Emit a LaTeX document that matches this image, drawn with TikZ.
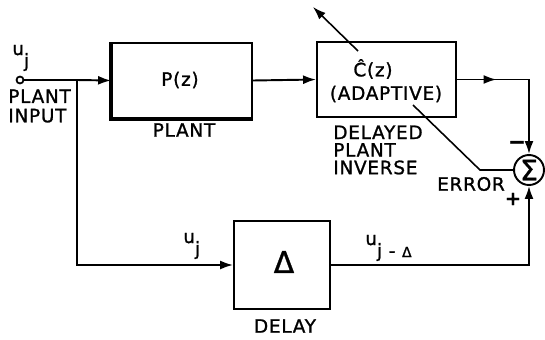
\documentclass[tikz,border=0pt]{standalone}
\usepackage{fontspec}
\setsansfont{DejaVu Sans}[LetterSpace=4, FakeBold=1.2]
\usetikzlibrary{arrows.meta,decorations.markings}
\tikzset{
  blk/.style={draw, line width=1.1pt, inner sep=0pt},
  sig/.style={line width=1.1pt},
  lbl/.style={inner sep=0pt, font=\sffamily\fontsize{10.5}{10}\selectfont},
  midarrow/.style={postaction={decorate},
    decoration={markings, mark=at position #1 with {\arrow{Latex[length=2.6mm,width=1.8mm]}}}},
}
\newcommand{\usub}[1]{u\raisebox{-1.2ex}{#1}}
\begin{document}
\begin{tikzpicture}[x=0.02cm, y=-0.02cm, >={Latex[length=2.6mm,width=1.8mm]}]
  \useasboundingbox (0,0) rectangle (545,339);

  % Bloques
  \node[blk, minimum width=2.8cm, minimum height=1.5cm] (plant) at (182,80.5) {};
  \draw[line width=2.4pt] (plant.north west) -- (plant.south west) -- (plant.south east);
  \node[blk, minimum width=2.78cm, minimum height=1.5cm] (cinv) at (386.5,79.5) {};
  \node[blk, minimum width=1.92cm, minimum height=1.76cm] (delay) at (282,265) {};
  \node[draw, circle, line width=1.1pt, minimum size=0.6cm, inner sep=0pt] (sum) at (529,170)
    {\sffamily\fontsize{16}{16}\selectfont Σ};
  \node[draw, circle, line width=1pt, minimum size=0.14cm, inner sep=0pt] (inp) at (20,80) {};

  % Textos de los bloques
  \node[lbl] (ptf) at (180,80) {P(z)};
  \node[lbl] (ctf) at (373,69) {Ĉ(z)};
  \node[lbl] (cadp) at (386,94) {(ADAPTIVE)};
  \node[lbl, font=\sffamily\fontsize{17}{17}\selectfont] (dtri) at (284,262) {Δ};

  % Etiquetas
  \node[lbl, anchor=base west] (uin) at (12,55) {\usub{j}};
  \node[lbl, anchor=west, align=left] (pin) at (8,106) {PLANT\\[1pt]INPUT};
  \node[lbl] (plbl) at (184,130) {PLANT};
  \node[lbl, anchor=west, align=left] (clbl) at (333,150) {DELAYED\\PLANT\\INVERSE};
  \node[lbl] (dlbl) at (285,326) {DELAY};
  \node[lbl] (elbl) at (471,184) {ERROR};
  \node[lbl, anchor=base west] (ulow) at (183,243) {\usub{j}};
  \node[lbl, anchor=base west] (udel) at (365,245) {\usub{j - {\fontsize{8}{8}\selectfont Δ}}};
  \node[lbl, font=\sffamily\bfseries\fontsize{12}{12}\selectfont] (mns) at (517,145) {−};
  \node[lbl, font=\sffamily\bfseries\fontsize{11}{11}\selectfont] (pls) at (513,199) {+};

  % Conexiones
  \coordinate (jn) at (77,80);
  \draw[sig] (inp.east) -- (jn);
  \draw[sig, ->] (jn) -- (plant.west);
  \draw[sig, ->] (plant.east) -- (cinv.west);
  \draw[sig, ->, midarrow=0.27] (cinv.east) -| (sum.north);
  \draw[sig, ->] (jn) |- (delay.west);
  \draw[sig, ->] (delay.east) -| (sum.south);

  % Error y ajuste adaptivo
  \coordinate (errk) at (480,170);
  \coordinate (adin) at (413,105);
  \coordinate (adout) at (358,51);
  \coordinate (adtip) at (313,7);
  \draw[line width=0.9pt] (sum.west) -- (errk) -- (adin);
  \draw[line width=0.9pt, ->] (adout) -- (adtip);
\end{tikzpicture}
\end{document}
